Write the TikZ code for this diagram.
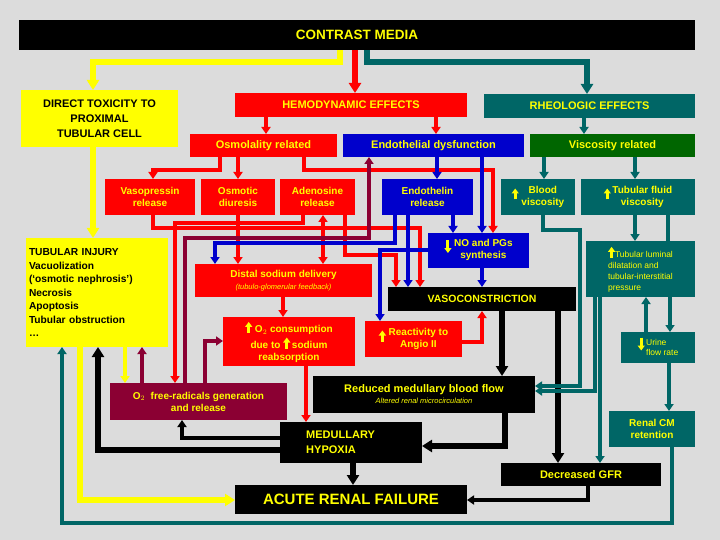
\documentclass[tikz,border=0pt]{standalone}
\usepackage{fontspec}
\setmainfont{Liberation Sans}
\usetikzlibrary{arrows.meta}
\definecolor{bg}{HTML}{DCDCDC}
\definecolor{rd}{HTML}{FF0000}
\definecolor{bl}{HTML}{0000CC}
\definecolor{tl}{HTML}{006666}
\definecolor{gr}{HTML}{006600}
\definecolor{mr}{HTML}{8B0033}
\definecolor{yl}{HTML}{FFFF00}
\newcommand{\upa}{\tikz[baseline=0pt]\draw[yl,line width=3pt,-{Triangle[length=5pt,width=7pt]}](0,0)--(0,11pt);}
\newcommand{\dna}{\tikz[baseline=0pt]\draw[yl,line width=3pt,-{Triangle[length=5pt,width=7pt]}](0,13pt)--(0,0);}
\begin{document}
\begin{tikzpicture}[x=1pt,y=-1pt,
 bx/.style={rectangle,inner sep=1pt,align=center,text=yl,font=\bfseries\fontsize{10}{12}\selectfont},
 a/.style={line width=5pt,-{Triangle[length=10pt,width=12pt]}},
 t/.style={line width=4pt,-{Triangle[length=7pt,width=9pt]}},
 l/.style={line width=4pt}]
\fill[bg] (0,0) rectangle (720,540);
\useasboundingbox (0,0) rectangle (720,540);
\newcommand{\B}[6]{\node[bx,fill=#2,minimum width=#5,minimum height=#6] (#1) at (#3,#4)}
\draw[a,yl,line width=6pt] (340,50) -- (340,62) -- (93,62) -- (93,90);
\draw[a,rd,line width=6pt] (355,50) -- (355,93);
\draw[a,tl,line width=6pt] (367,50) -- (367,62) -- (587,62) -- (587,94);
\draw[a,yl,line width=6pt] (93,147) -- (93,238);
\draw[a,yl,line width=6pt] (80,347) -- (80,500) -- (235,500);
\draw[t,rd] (266,117) -- (266,134);
\draw[t,rd] (436,117) -- (436,134);
\draw[t,tl] (584,118) -- (584,134);
\draw[t,rd] (220,157) -- (220,170) -- (153,170) -- (153,179);
\draw[t,rd] (238,157) -- (238,179);
\draw[t,rd] (304,157) -- (304,170) -- (493,170) -- (493,233);
\draw[t,bl] (437,157) -- (437,179);
\draw[t,bl] (482,157) -- (482,233);
\draw[t,tl] (544,157) -- (544,179);
\draw[t,tl] (635,157) -- (635,179);
\draw[t,rd] (238,215) -- (238,264);
\draw[t,rd,{Triangle[length=7pt,width=9pt]}-{Triangle[length=7pt,width=9pt]}] (323,215) -- (323,264);
\draw[t,rd] (153,215) -- (153,228) -- (420,228) -- (420,287);
\draw[t,rd] (345,215) -- (345,255) -- (396,255) -- (396,287);
\draw[t,rd] (303,215) -- (303,223) -- (175,223) -- (175,383);
\draw[t,rd] (283,297) -- (283,317);
\draw[t,rd] (306,366) -- (306,422);
\draw[t,rd] (462,342) -- (482,342) -- (482,311);
\draw[t,mr] (185,383) -- (185,238) -- (369,238) -- (369,157);
\draw[t,mr] (205,383) -- (205,341) -- (223,341);
\draw[t,mr] (142,383) -- (142,347);
\draw[t,yl] (125,347) -- (125,383);
\draw[t,bl] (395,215) -- (395,243) -- (215,243) -- (215,264);
\draw[t,bl] (408,215) -- (408,287);
\draw[t,bl] (453,215) -- (453,233);
\draw[t,bl] (482,268) -- (482,287);
\draw[t,bl] (428,250) -- (380,250) -- (380,321);
\draw[a,black,line width=6pt] (502,311) -- (502,376);
\draw[a,black,line width=6pt] (558,311) -- (558,463);
\draw[a,black,line width=6pt] (505,413) -- (505,446) -- (422,446);
\draw[a,black,line width=6pt] (353,463) -- (353,485);
\draw[t,black] (588,486) -- (588,500) -- (467,500);
\draw[t,black] (280,438) -- (182,438) -- (182,420);
\draw[a,black,line width=6pt] (280,450) -- (98,450) -- (98,347);
\draw[t,tl] (543,215) -- (543,230) -- (580,230) -- (580,386) -- (535,386);
\draw[t,tl] (595,297) -- (595,391) -- (535,391);
\draw[t,tl] (635,215) -- (635,241);
\draw[l,tl] (668,215) -- (668,241);
\draw[t,tl] (600,297) -- (600,463);
\draw[t,tl] (646,332) -- (646,297);
\draw[t,tl] (670,297) -- (670,332);
\draw[t,tl] (669,363) -- (669,411);
\draw[t,tl] (672,447) -- (672,523) -- (62,523) -- (62,347);
\B{CM}{black}{357}{35}{676pt}{30pt}[font=\bfseries\fontsize{13.5}{15}\selectfont]{CONTRAST MEDIA};
\B{DT}{yl}{99.5}{118.5}{157pt}{57pt}[text=black,font=\bfseries\fontsize{11}{15}\selectfont]{DIRECT TOXICITY TO\\PROXIMAL\\TUBULAR CELL};
\B{HE}{rd}{351}{105}{232pt}{24pt}[font=\bfseries\fontsize{11}{13}\selectfont]{HEMODYNAMIC EFFECTS};
\B{RH}{tl}{589.5}{106}{211pt}{24pt}[font=\bfseries\fontsize{11}{13}\selectfont]{RHEOLOGIC EFFECTS};
\B{OS}{rd}{263.5}{145.5}{147pt}{23pt}[font=\bfseries\fontsize{11}{13}\selectfont]{Osmolality related};
\B{ED}{bl}{433.5}{145.5}{181pt}{23pt}[font=\bfseries\fontsize{11}{13}\selectfont]{Endothelial dysfunction};
\B{VR}{gr}{612.5}{145.5}{165pt}{23pt}[font=\bfseries\fontsize{11}{13}\selectfont]{Viscosity related};
\B{VP}{rd}{150}{197}{90pt}{36pt}{Vasopressin\\release};
\B{OD}{rd}{238}{197}{74pt}{36pt}{Osmotic\\diuresis};
\B{AD}{rd}{317.5}{197}{75pt}{36pt}{Adenosine\\release};
\B{EN}{bl}{427.5}{197}{91pt}{36pt}{Endothelin\\release};
\B{BV}{tl}{538}{197}{74pt}{36pt}{\upa\ \begin{tabular}{@{}c@{}}Blood\\viscosity\end{tabular}};
\B{TF}{tl}{638}{197}{114pt}{36pt}{\upa\,\begin{tabular}{@{}c@{}}Tubular fluid\\viscosity\end{tabular}};
\B{TI}{yl}{97}{292.5}{142pt}{109pt}[text=black,align=left,text width=136pt,font=\bfseries\fontsize{10.2}{13.5}\selectfont]{TUBULAR INJURY\\Vacuolization\\(`osmotic nephrosis')\\Necrosis\\Apoptosis\\Tubular obstruction\\\dots};
\B{NO}{bl}{478.5}{250.5}{101pt}{35pt}{\dna\ \begin{tabular}{@{}c@{}}NO and PGs\\synthesis\end{tabular}};
\B{DS}{rd}{283.5}{280.5}{177pt}{33pt}{Distal sodium delivery\\{\mdseries\itshape\fontsize{7.5}{10}\selectfont (tubulo-glomerular feedback)}};
\B{TL}{tl}{640.5}{269}{109pt}{56pt}[align=left,font=\mdseries\fontsize{8.5}{11}\selectfont]{\upa Tubular luminal\\dilatation and\\tubular-interstitial\\pressure};
\B{VC}{black}{482}{299}{188pt}{24pt}[font=\bfseries\fontsize{10.5}{12}\selectfont]{VASOCONSTRICTION};
\B{O2}{rd}{289}{341.5}{132pt}{49pt}{\upa\ O$_2$ consumption\\due to \upa\,sodium\\reabsorption};
\B{RA}{rd}{413.5}{339}{97pt}{36pt}{\upa\ \begin{tabular}{@{}c@{}}Reactivity to\\Angio II\end{tabular}};
\B{UF}{tl}{658}{347.5}{74pt}{31pt}[align=left,font=\mdseries\fontsize{8.5}{10.5}\selectfont]{\dna\,\begin{tabular}{@{}l@{}}Urine\\flow rate\end{tabular}};
\B{RM}{black}{424}{394.5}{222pt}{37pt}[font=\bfseries\fontsize{11}{12}\selectfont]{Reduced medullary blood flow\\[-1pt]{\mdseries\itshape\fontsize{7.5}{9}\selectfont Altered renal microcirculation}};
\B{FR}{mr}{198.5}{401.5}{177pt}{37pt}{O$_2$\ \ free-radicals generation\\and release};
\B{MH}{black}{351}{442.5}{142pt}{41pt}[align=left,font=\bfseries\fontsize{11}{15}\selectfont]{MEDULLARY\\HYPOXIA\hspace*{40pt}};
\B{RC}{tl}{652}{429}{86pt}{36pt}{Renal CM\\retention};
\B{GF}{black}{581}{474.5}{160pt}{23pt}[font=\bfseries\fontsize{11}{13}\selectfont]{Decreased GFR};
\B{AR}{black}{351}{499.5}{232pt}{29pt}[font=\bfseries\fontsize{15}{17}\selectfont]{ACUTE RENAL FAILURE};
\end{tikzpicture}
\end{document}
